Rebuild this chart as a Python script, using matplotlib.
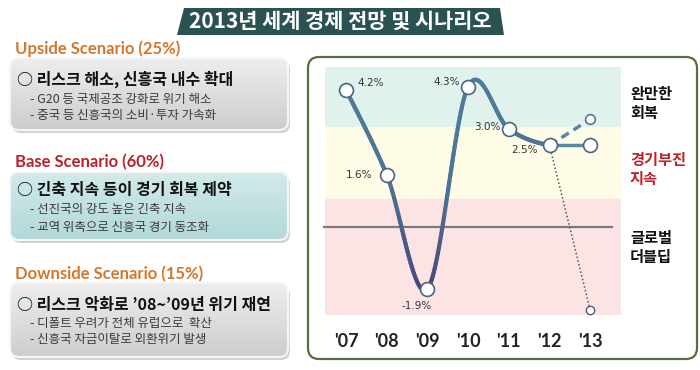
import numpy as np
import matplotlib.pyplot as plt
from matplotlib.patches import FancyBboxPatch, Polygon
from matplotlib.path import Path
from matplotlib.collections import LineCollection
from matplotlib.colors import LinearSegmentedColormap

plt.rcParams['font.family'] = ['Noto Sans CJK KR', 'DejaVu Sans']

# ---- 데이터 ----
years = ["'07", "'08", "'09", "'10", "'11", "'12", "'13"]
growth = [4.2, 1.6, -1.9, 4.3, 3.0, 2.5]          # '07 ~ '12
growth_labels = ['4.2%', '1.6%', '-1.9%', '4.3%', '3.0%', '2.5%']
base_13 = 2.5
upside_13 = 3.3
downside_13 = -2.55

band_edges = [4.9, 3.05, 0.85, -2.7]
band_names = ['완만한\n회복', '경기부진\n지속', '글로벌\n더블딥']

title = '2013년 세계 경제 전망 및 시나리오'
scenario_titles = ['Upside Scenario (25%)', 'Base Scenario (60%)', 'Downside Scenario (15%)']
scenario_heads = ['○ 리스크 해소, 신흥국 내수 확대',
                  '○ 긴축 지속 등이 경기 회복 제약',
                  '○ 리스크 악화로 ’08~’09년 위기 재연']
scenario_bullets = [['- G20 등 국제공조 강화로 위기 해소', '- 중국 등 신흥국의 소비·투자 가속화'],
                    ['- 선진국의 강도 높은 긴축 지속', '- 교역 위축으로 신흥국 경기 동조화'],
                    ['- 디폴트 우려가 전체 유럽으로  확산', '- 신흥국 자금이탈로 외환위기 발생']]

# ---- 스타일 ----
W, H = 700, 370
narrow = ['Lato', 'DejaVu Sans']
title_colors = ['#d4772c', '#b8232b', '#d4772c']
box_grad = [('#eeeeee', '#cdcdcd'), ('#d2eaea', '#b3d8d8'), ('#eeeeee', '#cdcdcd')]
# (제목 y, 박스 위, 박스 아래, 헤드 y, 불릿 y1, 불릿 y2) 픽셀
panel_pos = [(49, 58, 130, 79, 100, 116),
             (162, 172, 240, 190, 210, 227),
             (274, 283, 357, 305, 323, 339)]
band_colors = ['#e0f2ec', '#fefce6', '#fce4e4']
band_name_colors = ['#111111', '#c0202a', '#111111']
band_name_y = [3.77, 1.75, -0.64]
label_offsets = [(11, 7, 'left'), (-14, 0, 'right'), (-11, -17, 'center'),
                 (-8, 5, 'right'), (-8, 2, 'right'), (-12, -5, 'right')]

fig = plt.figure(figsize=(W / 100, H / 100), dpi=100)
fig.patch.set_facecolor('white')

# 배경 장식용 축 (픽셀 좌표)
bg = fig.add_axes([0, 0, 1, 1], zorder=0)
bg.set_xlim(0, W)
bg.set_ylim(H, 0)
bg.axis('off')

# 제목 배너
bg.add_patch(Polygon([(177, 35), (184, 8), (500, 8), (504, 35)], closed=True,
                     fc='#2b5252', ec='none'))
bg.text(340, 21, title, color='white', fontsize=15, fontweight='bold',
        ha='center', va='center')

# 왼쪽 시나리오 박스
for i in range(3):
    ty, y0, y1, hy, b1, b2 = panel_pos[i]
    bg.text(15, ty, scenario_titles[i], color=title_colors[i], fontsize=12,
            family=narrow, fontweight='bold', va='center', ha='left')
    shadow = FancyBboxPatch((12, y0 + 3), 278, y1 - y0,
                            boxstyle='round,pad=0,rounding_size=9',
                            fc='#9a9a9a', ec='none', alpha=0.45)
    bg.add_patch(shadow)
    box = FancyBboxPatch((10, y0), 278, y1 - y0,
                         boxstyle='round,pad=0,rounding_size=9',
                         fc='none', ec='#f6f6f6', lw=1.5, zorder=3)
    bg.add_patch(box)
    cmap = LinearSegmentedColormap.from_list('g', box_grad[i])
    im = bg.imshow(np.linspace(0, 1, 50).reshape(-1, 1), cmap=cmap,
                   extent=[10, 288, y1, y0], aspect='auto', zorder=2)
    im.set_clip_path(box)
    bg.text(17, hy, scenario_heads[i], fontsize=11.5, fontweight='bold',
            color='#111111', va='center', ha='left', zorder=4)
    bg.text(30, b1, scenario_bullets[i][0], fontsize=9, color='#3a3a3a',
            va='center', ha='left', zorder=4)
    bg.text(30, b2, scenario_bullets[i][1], fontsize=9, color='#3a3a3a',
            va='center', ha='left', zorder=4)

# 오른쪽 차트 패널
bg.add_patch(FancyBboxPatch((308, 57), 389, 302,
                            boxstyle='round,pad=0,rounding_size=11',
                            fc='white', ec='#56703c', lw=1.6))
bg.set_xlim(0, W)
bg.set_ylim(H, 0)

# ---- 차트 ----
ax = fig.add_axes([325 / W, (H - 315) / H, 296 / W, 248 / H], zorder=1)
ax.patch.set_visible(False)
x0_unit = 346
px_per_year = 40.7
ax.set_xlim((325 - x0_unit) / px_per_year, (621 - x0_unit) / px_per_year)
ax.set_ylim(band_edges[-1], band_edges[0])
for s in ax.spines.values():
    s.set_visible(False)
ax.set_yticks([])

for i in range(3):
    ax.axhspan(band_edges[i + 1], band_edges[i], color=band_colors[i], lw=0, zorder=0)
ax.plot([ax.get_xlim()[0] - 0.03, (612 - x0_unit) / px_per_year], [0, 0],
        color='#7a7a7a', lw=1.6, zorder=1, clip_on=False)

# 부드러운 곡선 (Catmull-Rom -> 베지어)
xs = np.arange(len(growth), dtype=float)
pts = np.column_stack([xs, growth])
ext = np.vstack([pts[0], pts, [len(growth), base_13]])
verts = [pts[0]]
codes = [Path.MOVETO]
for k in range(len(pts) - 1):
    p0, p1, p2, p3 = ext[k], ext[k + 1], ext[k + 2], ext[k + 3]
    verts += [p1 + (p2 - p0) / 6, p2 - (p3 - p1) / 6, p2]
    codes += [Path.CURVE4] * 3
curve = Path(verts, codes)
t = np.linspace(0, 1, 40)
seg_pts = np.vstack([seg.point_at_t(t) for seg, _ in curve.iter_bezier()])
segs = np.stack([seg_pts[:-1], seg_pts[1:]], axis=1)
mid_y = (seg_pts[:-1, 1] + seg_pts[1:, 1]) / 2
line_cmap = LinearSegmentedColormap.from_list('ln', ['#4a4878', '#4d7292', '#4f7c9c'])
lc = LineCollection(segs, cmap=line_cmap, norm=plt.Normalize(-2, 4.4),
                    lw=3.0, capstyle='round', zorder=2)
lc.set_array(mid_y)
ax.add_collection(lc)

# 2013 시나리오
ax.plot([5, 6], [growth[-1], base_13], color='#5b88a8', lw=2.5, zorder=2)
ax.plot([5, 6], [growth[-1], upside_13], color='#5b86a8', lw=2.5,
        dashes=(2.5, 1.6), zorder=2)
ax.plot([5, 6], [growth[-1], downside_13], color='#555555', lw=1.1,
        ls=(0, (1, 1.5)), zorder=2)

ax.plot(xs, growth, 'o', ms=10, mfc='white', mec='#4a6680', mew=1.2, zorder=3)
ax.plot([6], [base_13], 'o', ms=10, mfc='white', mec='#4a6680', mew=1.2, zorder=3)
ax.plot([6], [upside_13], 'o', ms=7, mfc='white', mec='#4f7ea0', mew=1.2, zorder=3)
ax.plot([6], [downside_13], 'o', ms=6, mfc='white', mec='#555a70', mew=1.0, zorder=3)

for i, lab in enumerate(growth_labels):
    dx, dy, ha = label_offsets[i]
    ax.annotate(lab, (xs[i], growth[i]), xytext=(dx, dy), textcoords='offset pixels',
                ha=ha, va='center', fontsize=7.5, color='#333333',
                family=['DejaVu Sans'], zorder=4)

for i in range(3):
    ax.text((630 - x0_unit) / px_per_year, band_name_y[i], band_names[i],
            color=band_name_colors[i], fontsize=11, fontweight='bold',
            ha='left', va='center', linespacing=1.25, clip_on=False)

ax.set_xticks(range(len(years)))
ax.set_xticklabels(years, family=narrow, fontweight='bold', fontsize=13, color='#222222')
ax.tick_params(axis='x', length=0, pad=13)

fig.savefig('out.png', dpi=100)
